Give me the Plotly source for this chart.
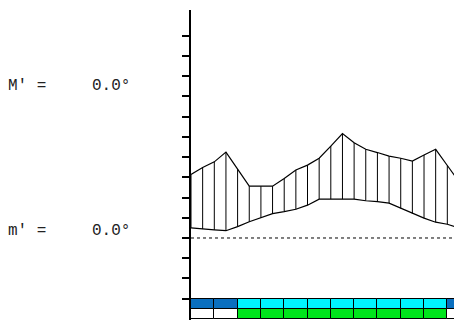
import plotly.graph_objects as go

# half-month sample positions (months from Jan 1)
x_pos = [0, 0.5, 1, 1.5, 2, 2.5, 3, 3.5, 4, 4.5, 5, 5.5, 6, 6.5, 7, 7.5, 8, 8.5, 9, 9.5, 10, 10.5, 11, 11.5, 12]
upper = [15.7, 17.4, 18.8, 21.2, 17.0, 12.8, 12.8, 12.8, 14.7, 16.8, 18.0, 19.7, 22.7, 25.8, 23.5, 21.9,
         21.1, 20.2, 19.7, 19.0, 20.5, 21.9, 17.9, 13.9, 15.7]
lower = [2.5, 2.2, 2.0, 1.8, 2.8, 4.0, 5.0, 6.0, 6.5, 7.1, 8.1, 9.6, 9.6, 9.6, 9.6, 9.2,
         9.0, 8.6, 7.3, 6.0, 4.9, 3.9, 3.4, 2.5, 2.5]

months = [0.5, 1.5, 2.5, 3.5, 4.5, 5.5, 6.5, 7.5, 8.5, 9.5, 10.5, 11.5]
row1_colors = ["#0a6fbf", "#0a6fbf"] + ["#00f4ff"] * 9 + ["#0a6fbf"]
row2_colors = ["#ffffff", "#ffffff"] + ["#00e41c"] * 9 + ["#ffffff"]

tick_vals = [-15, -10, -5, 0, 5, 10, 15, 20, 25, 30, 35, 40, 45, 50]
label_M = "M' ="
label_m = "m' ="
val_M = "0.0°"
val_m = "0.0°"

Y_MIN, Y_MAX = -20.25, 56.3
X_MAX = 11.63
CELL_H = 2.5

fig = go.Figure()

# colored month cells
fig.add_trace(go.Bar(x=months, y=[CELL_H] * 12, base=[-15 - CELL_H] * 12, width=1,
                     marker=dict(color=row1_colors, line=dict(color="black", width=1)),
                     hoverinfo="skip", showlegend=False))
fig.add_trace(go.Bar(x=months, y=[CELL_H] * 12, base=[-15 - 2 * CELL_H] * 12, width=1,
                     marker=dict(color=row2_colors, line=dict(color="black", width=1)),
                     hoverinfo="skip", showlegend=False))

# vertical hatch lines between lower and upper
hx, hy = [], []
for xv, lo, up in zip(x_pos, lower, upper):
    hx += [xv, xv, None]
    hy += [lo, up, None]
fig.add_trace(go.Scatter(x=hx, y=hy, mode="lines", line=dict(color="black", width=1),
                         hoverinfo="skip", showlegend=False))

fig.add_trace(go.Scatter(x=x_pos, y=upper, mode="lines", line=dict(color="black", width=1.2),
                         showlegend=False))
fig.add_trace(go.Scatter(x=x_pos, y=lower, mode="lines", line=dict(color="black", width=1.2),
                         showlegend=False))

# zero dashed line
fig.add_trace(go.Scatter(x=[0, X_MAX], y=[0, 0], mode="lines",
                         line=dict(color="black", width=1, dash="3px,3px"),
                         hoverinfo="skip", showlegend=False))

font = dict(family="Liberation Mono", size=16, color="#222222")
fig.add_annotation(x=-185 / 271, y=37.5, xref="paper", yref="y", text=label_M, showarrow=False,
                   xanchor="left", yanchor="middle", font=font)
fig.add_annotation(x=-101 / 271, y=37.5, xref="paper", yref="y", text=val_M, showarrow=False,
                   xanchor="left", yanchor="middle", font=font)
fig.add_annotation(x=-185 / 271, y=1.7, xref="paper", yref="y", text=label_m, showarrow=False,
                   xanchor="left", yanchor="middle", font=font)
fig.add_annotation(x=-101 / 271, y=1.7, xref="paper", yref="y", text=val_m, showarrow=False,
                   xanchor="left", yanchor="middle", font=font)

# page body has an 8px margin, so the figure is sized/offset to compensate
fig.update_layout(
    width=454, height=312,
    margin=dict(l=183, r=0, t=2, b=0),
    paper_bgcolor="white", plot_bgcolor="white",
    barmode="overlay", bargap=0,
    xaxis=dict(range=[0, X_MAX], visible=False, fixedrange=True),
    yaxis=dict(range=[Y_MIN, Y_MAX], showgrid=False, zeroline=False, showline=True,
               linecolor="black", linewidth=2, ticks="outside", ticklen=7, tickwidth=1.5,
               tickcolor="black", tickvals=tick_vals, showticklabels=False, fixedrange=True),
    showlegend=False,
)

fig.write_html("out.html")
